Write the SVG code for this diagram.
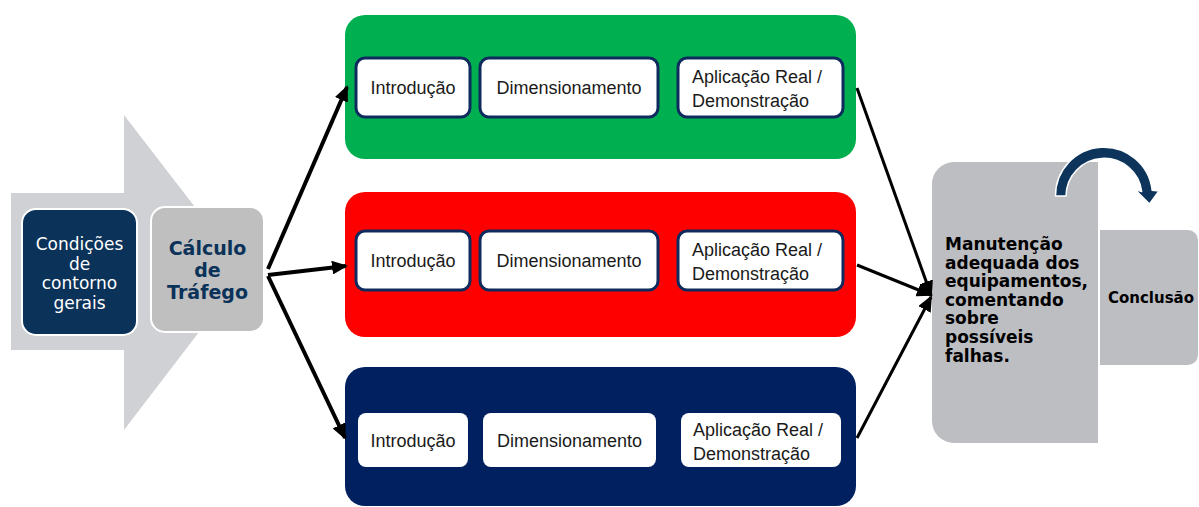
<svg xmlns="http://www.w3.org/2000/svg" width="1199" height="507" viewBox="0 0 1199 507">
<style>
.inner{fill:#ffffff;stroke:#0f2b5e;stroke-width:3}
.innerN{fill:#ffffff}
.lbl{font-family:"Liberation Sans",Arial,sans-serif;font-size:18px;fill:#1a1a1a}
.ctr{text-anchor:middle}
.conn{stroke:#000;fill:none}
.gray{fill:#bdbec2}
</style>
<defs>
<marker id="ah" markerUnits="userSpaceOnUse" markerWidth="16" markerHeight="14" refX="14" refY="7" orient="auto" viewBox="0 0 16 14">
<path d="M0,0 L16,7 L0,14 Z" fill="#000"/>
</marker>
</defs>
<rect width="1199" height="507" fill="#ffffff"/>

<g id="bigArrow">
<polygon points="11,193 124,193 124,115 245,272 124,430 124,350 11,350" fill="#d0d1d5"/>
</g>

<g id="condicoes">
<rect x="22" y="209" width="115" height="126" rx="14" fill="#0b3259" stroke="#ffffff" stroke-width="2"/>
<g font-family="DejaVu Sans,Verdana,sans-serif" font-size="17" fill="#ffffff" text-anchor="middle">
<text x="79.5" y="250">Condições</text>
<text x="79.5" y="269.5">de</text>
<text x="79.5" y="289">contorno</text>
<text x="79.5" y="308.5">gerais</text>
</g>
</g>

<g id="calculo">
<rect x="151" y="207" width="113" height="125" rx="14" fill="#bfbfbf" stroke="#ffffff" stroke-width="2"/>
<g font-family="DejaVu Sans,Verdana,sans-serif" font-size="19" font-weight="bold" fill="#0b3259" text-anchor="middle">
<text x="207.5" y="255">Cálculo</text>
<text x="207.5" y="277">de</text>
<text x="207.5" y="299">Tráfego</text>
</g>
</g>

<g id="greenRow">
<rect x="345" y="15" width="511" height="144" rx="20" fill="#00b050"/>
<g id="g-intro"><rect class="inner" x="356" y="58" width="114" height="59" rx="9"/><text class="lbl ctr" x="413" y="94">Introdução</text></g>
<g id="g-dim"><rect class="inner" x="480" y="58" width="178" height="59" rx="9"/><text class="lbl ctr" x="569" y="94">Dimensionamento</text></g>
<g id="g-apl"><rect class="inner" x="678" y="58" width="165" height="59" rx="9"/><text class="lbl" x="692" y="83">Aplicação Real /</text><text class="lbl" x="692" y="107">Demonstração</text></g>
</g>

<g id="redRow">
<rect x="345" y="192" width="511" height="145" rx="20" fill="#ff0000"/>
<g id="r-intro"><rect class="inner" x="356" y="231" width="114" height="59" rx="9"/><text class="lbl ctr" x="413" y="267">Introdução</text></g>
<g id="r-dim"><rect class="inner" x="480" y="231" width="178" height="59" rx="9"/><text class="lbl ctr" x="569" y="267">Dimensionamento</text></g>
<g id="r-apl"><rect class="inner" x="678" y="231" width="165" height="59" rx="9"/><text class="lbl" x="692" y="256">Aplicação Real /</text><text class="lbl" x="692" y="280">Demonstração</text></g>
</g>

<g id="navyRow">
<rect x="345" y="367" width="511" height="139" rx="20" fill="#002060"/>
<g id="n-intro"><rect class="innerN" x="358" y="413" width="110" height="54" rx="8"/><text class="lbl ctr" x="413" y="447">Introdução</text></g>
<g id="n-dim"><rect class="innerN" x="483" y="413" width="173" height="54" rx="8"/><text class="lbl ctr" x="569.5" y="447">Dimensionamento</text></g>
<g id="n-apl"><rect class="innerN" x="681" y="413" width="160" height="54" rx="8"/><text class="lbl" x="693" y="436">Aplicação Real /</text><text class="lbl" x="693" y="460">Demonstração</text></g>
</g>

<g id="manutencao">
<path class="gray" d="M954,162 L1098,162 L1098,443 L954,443 A22,22 0 0 1 932,421 L932,184 A22,22 0 0 1 954,162 Z"/>
<g font-family="DejaVu Sans,Verdana,sans-serif" font-size="17" font-weight="bold" fill="#000000">
<text x="945" y="250">Manutenção</text>
<text x="945" y="268.6">adequada dos</text>
<text x="945" y="287.2">equipamentos,</text>
<text x="945" y="305.8">comentando</text>
<text x="945" y="324.4">sobre</text>
<text x="945" y="343">possíveis</text>
<text x="945" y="361.6">falhas.</text>
</g>
</g>

<g id="conclusao">
<path class="gray" d="M1100,230 L1188,230 A10,10 0 0 1 1198,240 L1198,355 A10,10 0 0 1 1188,365 L1100,365 Z"/>
<text x="1151" y="303" font-family="DejaVu Sans,Verdana,sans-serif" font-size="15" font-weight="bold" fill="#000000" text-anchor="middle">Conclusão</text>
</g>

<g id="curvedArrow">
<path d="M1055.5,196 A48.5,48.5 0 0 1 1152.2,190.3 L1159,191 L1149.5,204 L1135,189.5 L1141.7,191.6 A38,38 0 0 0 1066,196 Z" fill="#0d355c" stroke="#ffffff" stroke-width="1.5" stroke-linejoin="round"/>
</g>

<g id="connectors">
<line class="conn" x1="268" y1="269" x2="347" y2="87" stroke-width="4" marker-end="url(#ah)"/>
<line class="conn" x1="268" y1="275" x2="346" y2="266" stroke-width="4" marker-end="url(#ah)"/>
<line class="conn" x1="268" y1="276" x2="345" y2="438" stroke-width="4" marker-end="url(#ah)"/>
<line class="conn" x1="857" y1="88" x2="931" y2="295" stroke-width="3" marker-end="url(#ah)"/>
<line class="conn" x1="857" y1="265" x2="931" y2="295" stroke-width="3" marker-end="url(#ah)"/>
<line class="conn" x1="857" y1="438" x2="931" y2="297" stroke-width="3" marker-end="url(#ah)"/>
</g>
</svg>
